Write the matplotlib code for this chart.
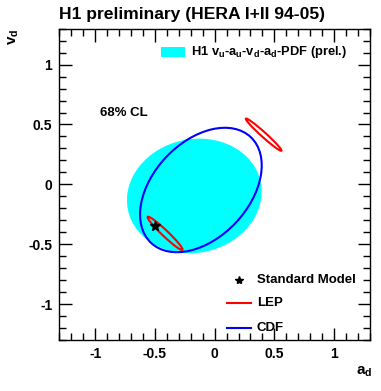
import matplotlib
matplotlib.use("Agg")
import matplotlib.pyplot as plt
from matplotlib.patches import Ellipse, Rectangle
from matplotlib.ticker import MultipleLocator

plt.rcParams['font.family'] = ['Liberation Sans', 'DejaVu Sans']
plt.rcParams['font.weight'] = 'bold'
plt.rcParams['mathtext.default'] = 'regular'

# 68% CL contours read off the picture as ellipses:
# centre (a_d, v_d), full length, full width, angle (deg)
h1_centre = (-0.170, -0.097)
h1_size = (1.135, 0.949)
h1_angle = 12

cdf_centre = (-0.115, -0.047)
cdf_size = (1.215, 0.80)
cdf_angle = 46.5

lep_centres = [(0.41, 0.415), (-0.415, -0.409)]
lep_sizes = [(0.40, 0.04), (0.40, 0.05)]
lep_angles = [-42, -43.5]

sm_ad = [-0.5]
sm_vd = [-0.35]

fig = plt.figure(figsize=(3.81, 3.91), dpi=100)
ax = fig.add_axes([0.1556, 0.1304, 0.8155, 0.7962])

ax.add_patch(Ellipse(h1_centre, h1_size[0], h1_size[1], angle=h1_angle,
                     facecolor='#00ffff', edgecolor='none', zorder=1))
ax.add_patch(Ellipse(cdf_centre, cdf_size[0], cdf_size[1], angle=cdf_angle,
                     facecolor='none', edgecolor='#0000ff', lw=1.5, zorder=2))
for c, s, a in zip(lep_centres, lep_sizes, lep_angles):
    ax.add_patch(Ellipse(c, s[0], s[1], angle=a, facecolor='none',
                         edgecolor='#ff0000', lw=1.5, zorder=3))
ax.plot(sm_ad, sm_vd, marker='*', color='black', ms=7, ls='none', zorder=4)

ax.set_xlim(-1.3, 1.3)
ax.set_ylim(-1.3, 1.3)
ax.xaxis.set_major_locator(MultipleLocator(0.5))
ax.xaxis.set_minor_locator(MultipleLocator(0.1))
ax.yaxis.set_major_locator(MultipleLocator(0.5))
ax.yaxis.set_minor_locator(MultipleLocator(0.1))
ax.xaxis.set_major_formatter(plt.FuncFormatter(lambda v, p: f"{v:g}"))
ax.yaxis.set_major_formatter(plt.FuncFormatter(lambda v, p: f"{v:g}"))
ax.tick_params(which='both', direction='in', top=True, right=True, width=1, labelsize=10)
ax.tick_params(which='major', length=9, pad=5)
ax.tick_params(which='minor', length=5)
for sp in ax.spines.values():
    sp.set_linewidth(1)

fig.text(0.155, 0.962, "H1 preliminary (HERA I+II 94-05)", fontsize=12.6,
         fontweight='bold', va='center', ha='left')
fig.text(0.037, 0.905, "v$_{d}$", fontsize=11, rotation=90, ha='center', va='center')
fig.text(0.955, 0.048, "a$_{d}$", fontsize=11, ha='center', va='center')

# legend, drawn by hand in axes coordinates
ax.add_patch(Rectangle((0.327, 0.908), 0.078, 0.034, transform=ax.transAxes,
                       facecolor='#00ffff', edgecolor='none', clip_on=False))
ax.text(0.423, 0.925, "H1 v$_{u}$-a$_{u}$-v$_{d}$-a$_{d}$-PDF (prel.)",
        transform=ax.transAxes, fontsize=9.3, va='center')
ax.text(0.131, 0.729, "68% CL", transform=ax.transAxes, fontsize=9.5, va='center')

ax.plot([0.577], [0.193], marker='*', color='black', ms=6, transform=ax.transAxes)
ax.text(0.636, 0.193, "Standard Model", transform=ax.transAxes, fontsize=9.5, va='center')
ax.plot([0.539, 0.616], [0.118, 0.118], color='#ff0000', lw=1.5, transform=ax.transAxes)
ax.text(0.636, 0.118, "LEP", transform=ax.transAxes, fontsize=9.5, va='center')
ax.plot([0.539, 0.616], [0.038, 0.038], color='#0000ff', lw=1.5, transform=ax.transAxes)
ax.text(0.636, 0.038, "CDF", transform=ax.transAxes, fontsize=9.5, va='center')

fig.savefig("out.png", dpi=100)
